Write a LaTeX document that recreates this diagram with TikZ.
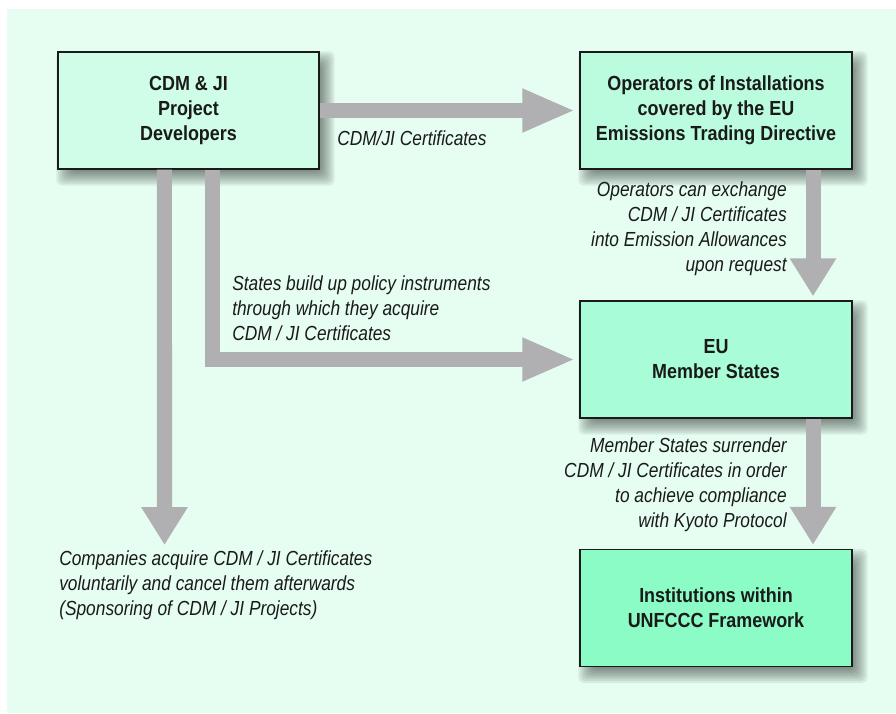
\documentclass[tikz,border=0pt]{standalone}
\usepackage{fontspec}
\setmainfont[FakeStretch=0.85,BoldFeatures={FakeStretch=0.88}]{Liberation Sans}
\usetikzlibrary{arrows.meta,backgrounds,positioning}

\definecolor{bgmint}{HTML}{E6FDF1}
\definecolor{devfill}{HTML}{D0FDE8}
\definecolor{opsfill}{HTML}{BAFCDD}
\definecolor{msfill}{HTML}{A8FCD6}
\definecolor{unfill}{HTML}{8CFCC6}
\definecolor{flowgray}{HTML}{B0B0B3}
\definecolor{ink}{HTML}{1A1A1A}

\begin{document}
\begin{tikzpicture}[x=0.025cm,y=0.025cm,
    box/.style={draw=ink,line width=1pt,minimum width=6.8cm,minimum height=2.925cm,
      align=center,text=ink,font=\bfseries\fontsize{14.5}{17.7}\selectfont},
    note/.style={inner sep=0pt,text=ink,font=\itshape\fontsize{14.5}{17.7}\selectfont},
    flow/.style={draw=flowgray,line width=0.375cm,shorten >=0.1cm},
    hhead/.style={-{Triangle[width=1cm,length=1.325cm]}},
    vhead/.style={-{Triangle[width=1.1cm,length=0.95cm]}}]

  \useasboundingbox (0,0) rectangle (896,-713);

  % the four parties
  \node[box,fill=devfill,minimum width=6.525cm] (dev) at (188.5,-110.5)
    {CDM \& JI\\Project\\Developers};
  \node[box,fill=opsfill] (ops) at (716,-110.5)
    {Operators of Installations\\covered by the EU\\Emissions Trading Directive};
  \node[box,fill=msfill] (states) at (716,-359.5) {EU\\Member States};
  \node[box,fill=unfill] (unfccc) at (716,-608) {Institutions within\\UNFCCC Framework};

  % white page, mint panel and soft drop shadows behind the boxes
  \begin{scope}[on background layer]
    \fill[white] (0,0) rectangle (896,-713);
    \fill[bgmint] (7,-9) rectangle (896,-713);
    \foreach \b in {dev,ops,states,unfccc}
      \foreach \s in {0,2,...,14}
        \fill[black,opacity=.065,rounded corners=4]
          ([shift={(-1+\s,-\s)}]\b.north west) rectangle ([shift={(15-\s,-16+\s)}]\b.south east);
  \end{scope}

  \coordinate (buy) at (164.5,-545);

  % certificate flows
  \draw[flow,hhead] (dev) -- (ops);
  \draw[flow,hhead] ([xshift=0.6cm]dev.south) |- (states);
  \draw[flow,vhead,shorten >=0pt] ([xshift=-0.6cm]dev.south) -- (buy);
  \draw[flow,vhead] ([xshift=2.425cm]ops.south) -- ([xshift=2.425cm]states.north);
  \draw[flow,vhead] ([xshift=2.425cm]states.south) -- ([xshift=2.425cm]unfccc.north);

  % labels
  \node[note,anchor=west] (certs) at (337,-138) {CDM/JI Certificates};
  \node[note,anchor=east,align=right] (exch) at (787,-229)
    {Operators can exchange\\CDM / JI Certificates\\into Emission Allowances\\upon request};
  \node[note,anchor=west,align=left] (policy) at (232,-308)
    {States build up policy instruments\\through which they acquire\\CDM / JI Certificates};
  \node[note,anchor=east,align=right] (surr) at (787,-484.5)
    {Member States surrender\\CDM / JI Certificates in order\\to achieve compliance\\with Kyoto Protocol};
  \node[note,anchor=west,align=left] (vol) at (59,-585)
    {Companies acquire CDM / JI Certificates\\voluntarily and cancel them afterwards\\(Sponsoring of CDM / JI Projects)};

\end{tikzpicture}
\end{document}
